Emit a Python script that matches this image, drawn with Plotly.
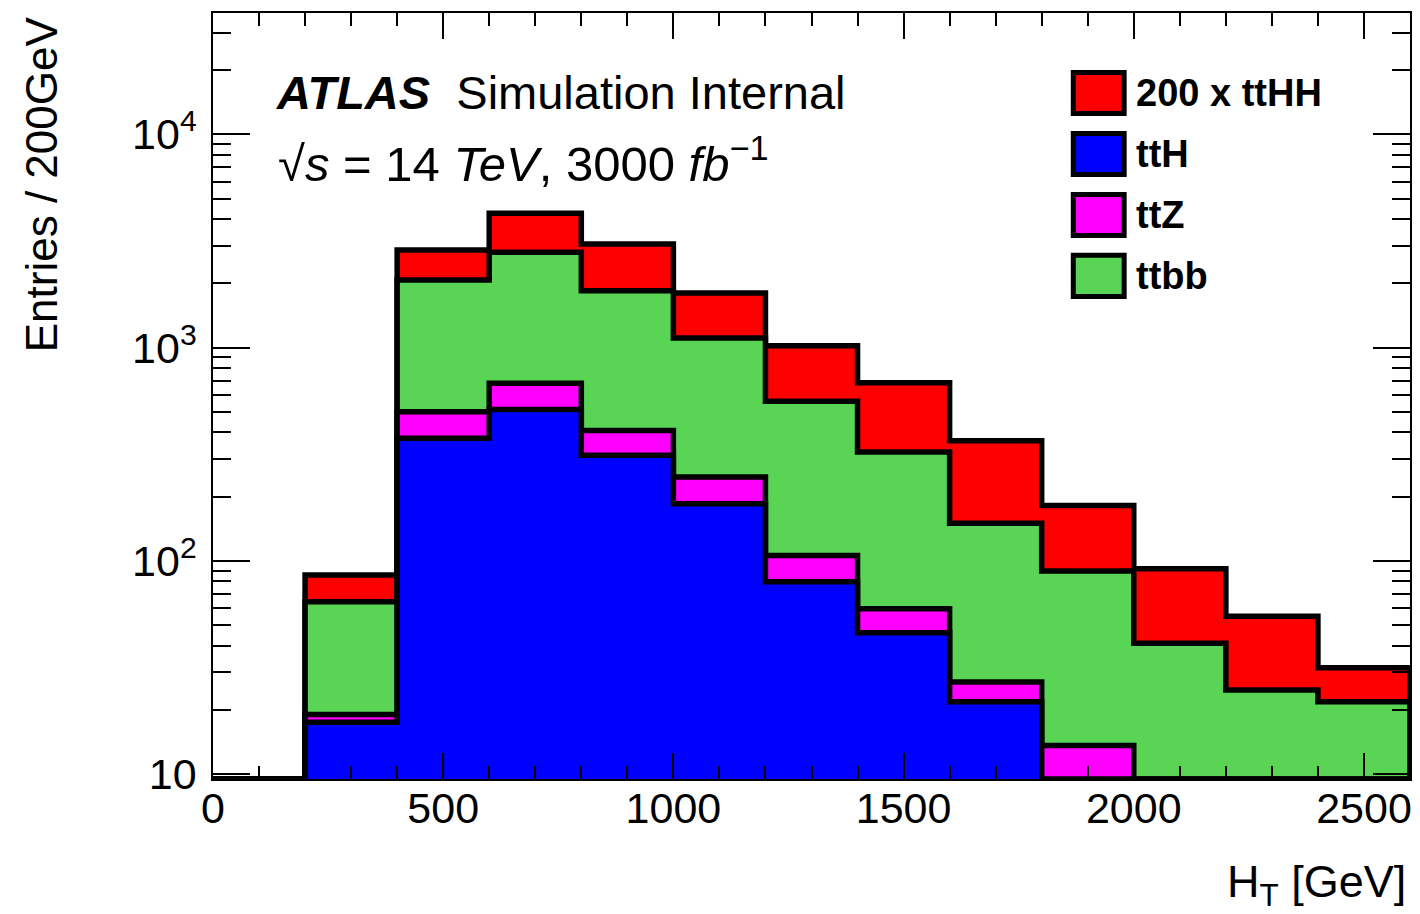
import plotly.graph_objects as go

# ---------------- data ----------------
bin_edges = [0, 200, 400, 600, 800, 1000, 1200, 1400, 1600, 1800, 2000, 2200, 2400, 2600]
tth       = [0, 17.5, 376, 512, 313, 185, 79.8, 46.0, 21.8, 0, 0, 0, 0]
ttz       = [0, 1.5, 124, 169, 95, 62, 26, 13.6, 5.2, 13.6, 0, 0, 0]
ttbb      = [0, 45.3, 1575, 2119, 1441, 862, 454, 264, 123, 76, 41, 24.8, 21.8]
tthh_x200 = [0, 21.4, 796, 1466, 1213, 694, 459, 360, 216, 92, 50.8, 30.1, 9.7]

legend_labels = ["200 x ttHH", "ttH", "ttZ", "ttbb"]
x_ticks = [0, 500, 1000, 1500, 2000, 2500]
y_ticks = [10, 100, 1000, 10000]
y_ticktext = ["10", "10<sup>2</sup>", "10<sup>3</sup>", "10<sup>4</sup>"]

# ---------------- style ----------------
RED, BLUE, MAGENTA, GREEN = "#FF0000", "#0000FF", "#FF00FF", "#59D454"
FONT = "Liberation Sans, Arial, Helvetica, sans-serif"
LOGRANGE = [0.9765, 4.5694]
BASE = 10 ** LOGRANGE[0]
LW = 5.5

# cumulative stacks (bottom -> top)
cum_tth = tth
cum_ttz = [a + b for a, b in zip(cum_tth, ttz)]
cum_ttbb = [a + b for a, b in zip(cum_ttz, ttbb)]
cum_tthh = [a + b for a, b in zip(cum_ttbb, tthh_x200)]


def step_path(vals):
    xs, ys = [bin_edges[0]], [max(vals[0], BASE)]
    for i, v in enumerate(vals):
        v = max(v, BASE)
        xs += [bin_edges[i], bin_edges[i + 1]]
        ys += [v, v]
    xs.append(bin_edges[-1])
    ys.append(BASE)
    return xs, ys


fig = go.Figure()
for vals, col in [(cum_tthh, RED), (cum_ttbb, GREEN), (cum_ttz, MAGENTA), (cum_tth, BLUE)]:
    sx, sy = step_path(vals)
    fx = [bin_edges[0]] + sx + [bin_edges[-1]]
    fy = [BASE] + sy + [BASE]
    fig.add_trace(go.Scatter(x=fx, y=fy, fill="toself", fillcolor=col, mode="lines",
                             line=dict(width=0, color=col), hoverinfo="skip", showlegend=False))
    fig.add_trace(go.Scatter(x=sx, y=sy, mode="lines", line=dict(width=LW, color="black"),
                             hoverinfo="skip", showlegend=False))

# ---------------- axes ----------------
fig.update_xaxes(range=[0, 2600], tickvals=x_ticks, ticks="inside", ticklen=26, tickwidth=2,
                 tickcolor="black", showline=True, linecolor="black", linewidth=1.5, mirror="ticks",
                 showgrid=False, zeroline=False, ticklabelstandoff=-9,
                 tickfont=dict(family=FONT, size=43, color="black"),
                 minor=dict(dtick=100, tick0=0, ticks="inside", ticklen=13, tickwidth=2, tickcolor="black"))

y_minor = [m * 10 ** k for k in range(1, 5) for m in range(2, 10) if m * 10 ** k < 10 ** LOGRANGE[1]]
fig.update_yaxes(type="log", range=LOGRANGE, tickvals=y_ticks, ticktext=y_ticktext,
                 ticks="inside", ticklen=37, tickwidth=2, tickcolor="black",
                 showline=True, linecolor="black", linewidth=1.5, mirror="ticks",
                 showgrid=False, zeroline=False, ticklabelstandoff=6,
                 tickfont=dict(family=FONT, size=43, color="black"),
                 minor=dict(tickmode="array", tickvals=y_minor, ticks="inside", ticklen=18,
                            tickwidth=2, tickcolor="black"))

annotations = [
    dict(text="<b><i>ATLAS</i></b>\u00a0\u00a0Simulation Internal", x=0.051, y=0.8956,
         xanchor="left", yanchor="middle", font=dict(family=FONT, size=47, color="black")),
    dict(text="\u221a<i>s</i> = 14 <i>TeV</i>, 3000 <i>fb</i><sup>\u22121</sup>",
         x=0.053, y=0.808, xanchor="left", yanchor="middle",
         font=dict(family=FONT, size=49, color="black")),
    dict(text="H<sub>T</sub> [GeV]", x=0.998, y=-0.138, xanchor="right", yanchor="middle",
         font=dict(family=FONT, size=45, color="black")),
    dict(text="Entries / 200GeV", x=-0.1426, y=0.7768, xanchor="center", yanchor="middle",
         textangle=-90, font=dict(family=FONT, size=44, color="black")),
]

shapes = []
leg_cols = [RED, BLUE, MAGENTA, GREEN]
for i, (lab, col) in enumerate(zip(legend_labels, leg_cols)):
    yc = 0.8956 - i * 0.0796
    shapes.append(dict(type="rect", xref="paper", yref="paper", x0=0.7187, x1=0.7612,
                       y0=yc - 0.0268, y1=yc + 0.0268, fillcolor=col,
                       line=dict(color="black", width=5)))
    annotations.append(dict(text="<b>" + lab + "</b>", x=0.7698, y=yc, xanchor="left",
                            yanchor="middle", font=dict(family=FONT, size=38, color="black")))

for a in annotations:
    a.update(xref="paper", yref="paper", showarrow=False)

fig.update_layout(width=1420, height=914, margin=dict(l=213, r=8, t=13, b=135),
                  plot_bgcolor="white", paper_bgcolor="white",
                  annotations=annotations, shapes=shapes, showlegend=False)

fig.write_html("out.html")
